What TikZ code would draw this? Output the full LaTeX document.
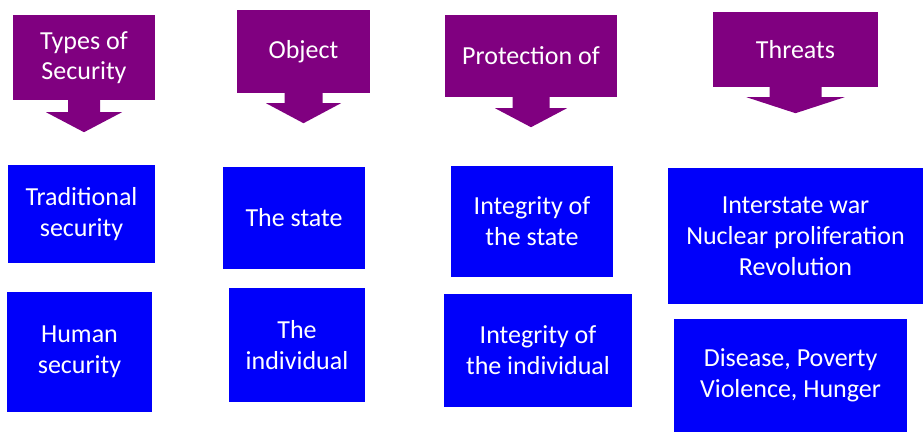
\documentclass[tikz,border=0pt]{standalone}
\usepackage{fontspec}
\setmainfont{Carlito}
\usepackage{tikz}
\usetikzlibrary{calc}
\definecolor{hdrpurple}{RGB}{128,0,128}
\definecolor{boxblue}{RGB}{0,0,250}

\begin{document}
\begin{tikzpicture}[x=1pt, y=-1pt,
    hdr/.style={shape=rectangle, fill=hdrpurple, text=white, align=center,
      font=\fontsize{26}{30}\selectfont, inner sep=0pt},
    bx/.style={shape=rectangle, fill=boxblue, text=white, align=center,
      font=\fontsize{26}{31}\selectfont, inner sep=0pt},]
    \useasboundingbox (0,0) rectangle (923,432);
    % headers
    \node [hdr, minimum width=142pt, minimum height=85pt] (types) at (84,57.5) {Types of\\Security};
    \node [hdr, minimum width=133pt, minimum height=83pt] (object) at (303.5,51.5) {Object};
    \node [hdr, minimum width=172pt, minimum height=82pt] (protect) at (531,56) {Protection of};
    \node [hdr, minimum width=165pt, minimum height=75pt] (threats) at (795.5,49.5) {Threats};
    \foreach \n/\s/\h/\a/\b in {types/16/38/12/20, object/19/37.5/10/20,
        protect/18.5/36/11/19, threats/26/49/10/16}
      \fill [hdrpurple] ($(\n.south)+(-\s,-1)$) -- ($(\n.south)+(-\s,\a)$)
        -- ($(\n.south)+(-\h,\a)$) -- ($(\n.south)+(0,\a+\b)$)
        -- ($(\n.south)+(\h,\a)$) -- ($(\n.south)+(\s,\a)$)
        -- ($(\n.south)+(\s,-1)$) -- cycle;
    % boxes
    \node [bx, minimum width=147pt, minimum height=98pt] (trad) at (81.5,214) {Traditional\\security};
    \node [bx, minimum width=145pt, minimum height=120pt] (human) at (79.5,352) {Human\\security};
    \node [bx, minimum width=142pt, minimum height=102pt] (state) at (294,218) {The state};
    \node [bx, minimum width=136pt, minimum height=114pt] (indiv) at (297,345) {The\\individual};
    \node [bx, minimum width=162pt, minimum height=111pt] (intstate) at (532,221.5) {Integrity of\\the state};
    \node [bx, minimum width=188pt, minimum height=113pt] (intindiv) at (538,350.5) {Integrity of\\the individual};
    \node [bx, minimum width=255pt, minimum height=136pt] (oldthreat) at (795.5,236) {Interstate war\\Nuclear proliferation\\Revolution};
    \node [bx, minimum width=233pt, minimum height=113pt] (newthreat) at (790.5,375.5) {Disease, Poverty\\Violence, Hunger};
\end{tikzpicture}
\end{document}
